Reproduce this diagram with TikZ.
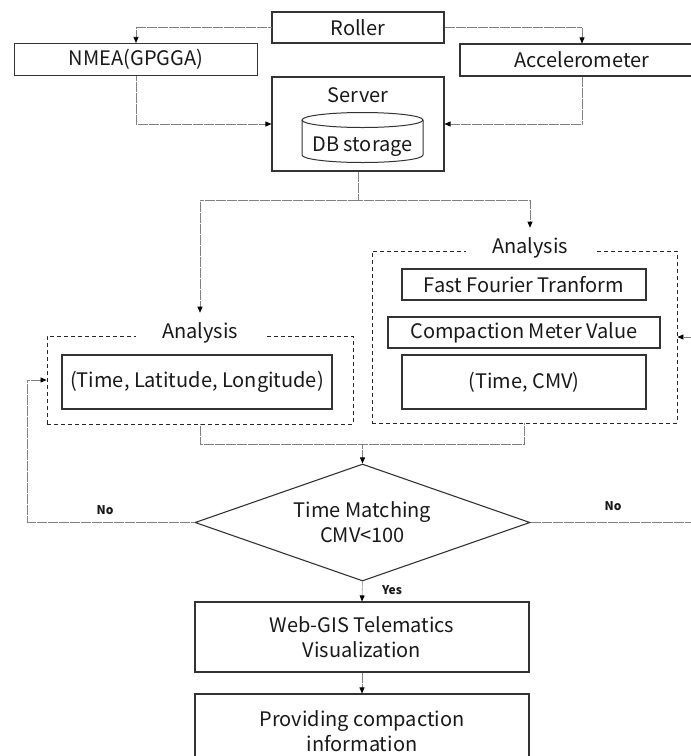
\documentclass[tikz,border=0pt]{standalone}
\usepackage{fontspec}
\setmainfont{Noto Sans CJK KR}
\usetikzlibrary{arrows.meta,shapes.geometric}
\newcommand\flowfont{\fontsize{20}{25}\selectfont}
\newcommand\tagfont{\fontsize{12}{14}\selectfont\bfseries}

\begin{document}
\begin{tikzpicture}[x=1pt,y=-1pt,
  every node/.style={text=black!90},
  box/.style={draw=black!80, line width=1.1pt, inner sep=0pt, align=center, font=\flowfont},
  group/.style={draw=black!85, line width=0.9pt, dash pattern=on 4pt off 3pt, inner sep=0pt},
  grouplabel/.style={fill=white, inner xsep=26pt, inner ysep=1pt, outer ysep=9pt, font=\flowfont},
  conn/.style={draw=black!50, line width=0.7pt, dash pattern=on 0.6pt off 0.5pt},
  arr/.style={conn, -{Triangle[length=6pt,width=5pt,color=black]}},
  tag/.style={font=\tagfont, inner sep=0pt}
]
\useasboundingbox (0,0) rectangle (691,756);
\clip (0,0) rectangle (691,756);

% sources
\node[box, minimum width=172pt, minimum height=31pt] (roller) at (358,27.5) {Roller};
\node[box, minimum width=243pt, minimum height=32pt] (nmea) at (136,59.5) {NMEA(GPGGA)};
\node[box, minimum width=244pt, minimum height=32pt] (acc) at (582,60) {Accelerometer};

% server with database cylinder
\node[box, minimum width=172pt, minimum height=94pt] (server) at (358,124) {};
\node[font=\flowfont] (servertitle) at (358,95) {Server};
\draw[draw=black!80, line width=1pt]
  (302,120) -- (302,155) arc[start angle=180, end angle=360, x radius=60.5pt, y radius=7.5pt] -- (423,120);
\draw[draw=black!80, line width=1pt] (362.5,120) ellipse [x radius=60.5pt, y radius=7.5pt];
\node[font=\flowfont] (db) at (362.5,147) {DB storage};

% analysis groups
\node[group, minimum width=306pt, minimum height=88pt] (lgroup) at (200,380) {};
\node[grouplabel] (llabel) at (200,333) {Analysis};
\node[box, minimum width=270pt, minimum height=54pt] (latlon) at (197,382) {(Time, Latitude, Longitude)};

\node[group, minimum width=305pt, minimum height=172pt] (rgroup) at (524.5,337) {};
\node[grouplabel] (rlabel) at (530,248) {Analysis};
\node[box, minimum width=244pt, minimum height=31pt] (fft) at (524,284.5) {Fast Fourier Tranform};
\node[box, minimum width=272pt, minimum height=31pt] (cmv) at (524,332.5) {Compaction Meter Value};
\node[box, minimum width=244pt, minimum height=54pt] (tcmv) at (524,382) {(Time, CMV)};

% decision and outputs
\node[diamond, draw=black!80, line width=1.1pt, aspect=2.86, minimum width=335pt, minimum height=117pt,
      inner sep=0pt, align=center, font=\flowfont] (match) at (362.5,522.5) {Time Matching\\CMV<100};
\node[box, minimum width=334pt, minimum height=70pt] (web) at (362,637) {Web-GIS Telematics\\Visualization};
\node[box, minimum width=334pt, minimum height=74pt] (prov) at (362,731) {Providing compaction\\information};

% connectors
\draw[arr] (roller.west) -| (nmea.north);
\draw[arr] (roller.east) -| (acc.north);
\draw[arr] (nmea.south) |- (server.west);
\draw[arr] (acc.south) |- (server.east);

\coordinate (split) at (358,200);
\draw[conn] (server.south) -- (split);
\draw[arr] (split) -| (llabel.north);
\draw[arr] (split) -| (rlabel.north);

\coordinate (merge) at (362.5,444);
\draw[conn] (lgroup.south) |- (merge) -| (rgroup.south);
\draw[arr] (merge) -- (match.north);

\coordinate (lret) at (27,522.5);
\draw[arr] (match.west) -- (lret) |- (lgroup.west);
\coordinate (rret) at (700,522.5);
\draw[arr] (match.east) -- (rret) |- (rgroup.east);

\draw[arr] (match.south) -- (web.north);
\draw[arr] (web.south) -- (prov.north);

% branch labels
\node[tag] (nol) at (105,510) {No};
\node[tag] (nor) at (613,506) {No};
\node[tag] (yes) at (392,590) {Yes};
\end{tikzpicture}
\end{document}
